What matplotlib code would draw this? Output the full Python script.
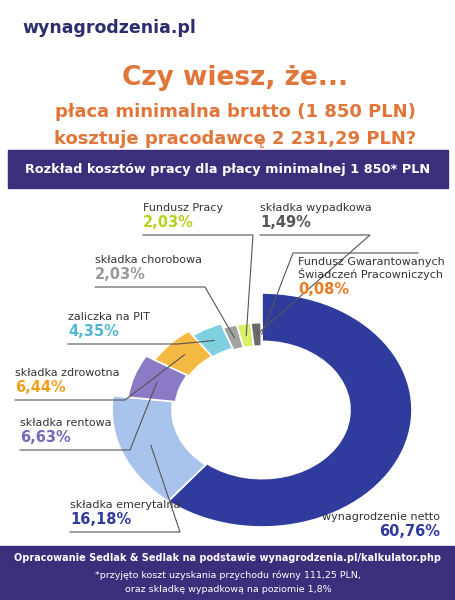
import matplotlib
matplotlib.use("Agg")
import matplotlib.pyplot as plt
from matplotlib.patches import Wedge, Rectangle
from matplotlib.transforms import Affine2D
import numpy as np

labels = ["wynagrodzenie netto", "składka emerytalna", "składka rentowa", "składka zdrowotna",
          "zaliczka na PIT", "składka chorobowa", "Fundusz Pracy", "składka wypadkowa",
          "Fundusz Gwarantowanych\nŚwiadczeń Pracowniczych"]
values = [60.76, 16.18, 6.63, 6.44, 4.35, 2.03, 2.03, 1.49, 0.08]
value_texts = ["60,76%", "16,18%", "6,63%", "6,44%", "4,35%", "2,03%", "2,03%", "1,49%", "0,08%"]
colors = ["#2F3C9E", "#A9C4EC", "#8B7BC6", "#F5B843", "#7FD0DE", "#A3A3A3", "#D9F06A", "#6A6A6A", "#F08A3C"]
val_colors = ["#2F3C9E", "#2F3C9E", "#7A68B8", "#F0A020", "#4FB8D0", "#999999", "#B8D020", "#555555", "#F07A20"]
radii = [150, 150, 135, 125, 118, 112, 112, 112, 112]
widths = [62, 60, 48, 40, 34, 30, 30, 30, 30]
lab_pos = [(440, 522, "right"), (70, 510, "left"), (20, 428, "left"), (15, 378, "left"),
           (68, 322, "left"), (95, 265, "left"), (143, 213, "left"), (260, 213, "left"),
           (298, 280, "left")]

W, H = 456, 600
fig = plt.figure(figsize=(4.56, 6.0), dpi=100)
ax = fig.add_axes([0, 0, 1, 1])
ax.set_xlim(0, W); ax.set_ylim(0, H); ax.axis("off")
fy = lambda y: H - y

ax.text(22, fy(28), "wynagrodzenia.pl", fontsize=12.5, fontweight="bold", color="#2B2E6B", va="center")
ax.text(235, fy(78), "Czy wiesz, że...", fontsize=19, fontweight="bold", color="#E0763A", ha="center", va="center")
ax.text(235, fy(112), "płaca minimalna brutto (1 850 PLN)", fontsize=13, fontweight="bold", color="#E0763A", ha="center", va="center")
ax.text(235, fy(139), "kosztuje pracodawcę 2 231,29 PLN?", fontsize=13, fontweight="bold", color="#E0763A", ha="center", va="center")
ax.add_patch(Rectangle((8, fy(188)), 440, 38, color="#3D2E7C"))
ax.text(228, fy(169), "Rozkład kosztów pracy dla płacy minimalnej 1 850* PLN", fontsize=9.3,
        fontweight="bold", color="white", ha="center", va="center")
ax.add_patch(Rectangle((0, 0), W, 54, color="#3D2E7C"))
ax.text(228, fy(558), "Opracowanie Sedlak & Sedlak na podstawie wynagrodzenia.pl/kalkulator.php",
        fontsize=7.0, fontweight="bold", color="white", ha="center", va="center")
ax.text(228, fy(575), "*przyjęto koszt uzyskania przychodu równy 111,25 PLN,", fontsize=6.8, color="white", ha="center", va="center")
ax.text(228, fy(589), "oraz składkę wypadkową na poziomie 1,8%", fontsize=6.8, color="white", ha="center", va="center")

cx, cy = 262, fy(410)
squash = 0.78
tr = Affine2D().translate(-cx, -cy).scale(1, squash).translate(cx, cy) + ax.transData
start = 90.0
for i, v in enumerate(values):
    ang = v * 3.6
    t2 = start; t1 = start - ang
    ax.add_patch(Wedge((cx, cy), radii[i], t1, t2, width=widths[i], facecolor=colors[i],
                       edgecolor="white", linewidth=1.2, transform=tr))
    mid = np.deg2rad((t1 + t2) / 2)
    rm = radii[i] - widths[i] / 2
    px, py = cx + rm * np.cos(mid), cy + squash * rm * np.sin(mid)
    lx, ly, ha = lab_pos[i]
    ax.text(lx, fy(ly), labels[i], fontsize=8, color="#333333", ha=ha, va="bottom", linespacing=1.1)
    ax.text(lx, fy(ly) - 2, value_texts[i], fontsize=10.5, fontweight="bold", color=val_colors[i], ha=ha, va="top")
    if i == 8:
        ax.plot([lx + 120, lx - 5, px], [fy(ly) + 27, fy(ly) + 27, py], color="#555555", linewidth=0.8)
    elif i > 0:
        ex = lx + 110
        ax.plot([lx, ex, px], [fy(ly) - 22, fy(ly) - 22, py], color="#555555", linewidth=0.8)
    start = t1

fig.savefig("out.png", dpi=100, facecolor="white")
